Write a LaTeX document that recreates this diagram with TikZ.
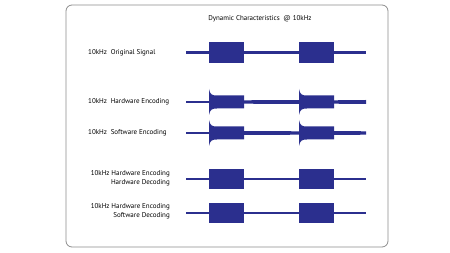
\documentclass[tikz,border=0pt]{standalone}
\usepackage{fontspec}
\setmainfont{PT Sans}
\definecolor{sigBlue}{HTML}{2B2F8E}
\definecolor{frameGray}{HTML}{8C8C8C}
\tikzset{
  lbl/.style={font=\fontsize{7}{9.5}\selectfont, inner sep=0pt, align=right},
  sig/.style={fill=sigBlue},
  wire/.style={draw=sigBlue, line width=2.6pt},
}
\begin{document}
\begin{tikzpicture}[x=1pt,y=-1pt]
  \useasboundingbox (0,0) rectangle (450,253);
  \draw[frameGray, line width=0.8pt, rounded corners=6pt] (66,5) rectangle (388,247);
  \node[lbl] (title) at (260,19) {Dynamic Characteristics\ \ @ 10kHz};
  \node[lbl, anchor=west] (orig) at (88,52.5) {10kHz\ \ Original Signal};
  \node[lbl, anchor=west] (hwenc) at (88,102) {10kHz\ \ Hardware Encoding};
  \node[lbl, anchor=west] (swenc) at (88,133) {10kHz\ \ Software Encoding};
  \node[lbl, anchor=east] (hwdec) at (170,178.5) {10kHz Hardware Encoding\\Hardware Decoding};
  \node[lbl, anchor=east] (swdec) at (170,211.5) {10kHz Hardware Encoding\\Software Decoding};
  % clean square signals
  \foreach \y/\h in {52.5/10.5, 179/10, 213/10} {
    \draw[wire] (186,\y) -- (366,\y);
    \foreach \x in {209,299}
      \fill[sig] (\x,\y-\h) rectangle ++(35,2*\h);
  }
  % encoded signals: overshoot at the edge, tapered tail after
  \foreach \y/\ta/\tb in {102/1.7/2.0, 133/2.0/1.7} {
    \draw[wire] (186,\y) -- (209,\y);
    \foreach \x in {209,299}
      \fill[sig] (\x,\y-13) .. controls (\x+1,\y-7.5) and (\x+3,\y-6.5) .. (\x+8,\y-6.5)
        -- (\x+35,\y-6.5) -- (\x+35,\y+6.5) -- (\x+8,\y+6.5)
        .. controls (\x+3,\y+6.5) and (\x+1,\y+7.5) .. (\x,\y+13) -- cycle;
    \foreach \ts/\te in {243/300, 333/366}
      \fill[sig] (\ts,\y-\ta) -- (\te,\y-\tb) -- (\te,\y+\tb) -- (\ts,\y+\ta) -- cycle;
  }
\end{tikzpicture}
\end{document}
